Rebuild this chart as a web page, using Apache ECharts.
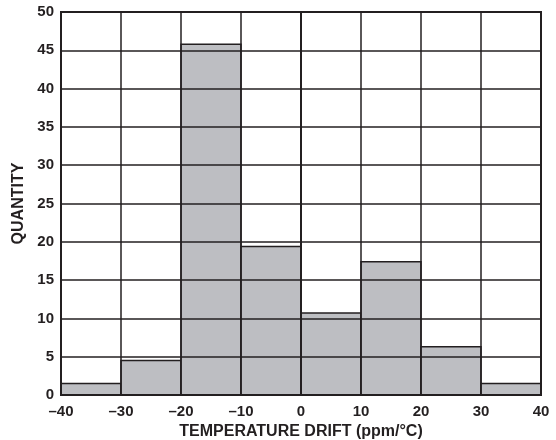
<!DOCTYPE html>
<html>
<head>
<meta charset="utf-8">
<script src="https://cdn.jsdelivr.net/npm/echarts@6/dist/echarts.min.js"></script>
<style>html,body{margin:0;padding:0;background:#fff}#c{width:556px;height:440px}</style>
</head>
<body>
<div id="c"></div>
<script>
const binStarts = [-40, -30, -20, -10, 0, 10, 20, 30];
const binWidth = 10;
const quantities = [1.5, 4.5, 45.8, 19.4, 10.7, 17.4, 6.3, 1.5];
const xTicks = [-40, -30, -20, -10, 0, 10, 20, 30, 40];
const yTicks = [0, 5, 10, 15, 20, 25, 30, 35, 40, 45, 50];

const data = binStarts.map((s, i) => [s, s + binWidth, quantities[i]]);
const font = 'Liberation Sans, Arial, sans-serif';
const ink = '#231f20';

const chart = echarts.init(document.getElementById('c'));
chart.setOption({
  animation: false,
  grid: { left: 61, right: 15, top: 12, bottom: 45, show: false, containLabel: false, outerBoundsMode: 'none' },
  xAxis: {
    type: 'value', min: xTicks[0], max: xTicks[xTicks.length - 1], interval: 10, z: 5,
    name: 'TEMPERATURE DRIFT (ppm/°C)', nameLocation: 'middle', nameGap: 29,
    nameTextStyle: { fontFamily: font, fontWeight: 'bold', fontSize: 16, color: ink },
    axisLine: { show: true, lineStyle: { color: ink, width: 2 } },
    axisTick: { show: false },
    axisLabel: { fontFamily: font, fontWeight: 'bold', fontSize: 15, color: ink, margin: 9,
      formatter: v => String(v).replace('-', '\u2013') },
    splitLine: { show: true, lineStyle: { color: ink, width: 1.5 } }
  },
  yAxis: {
    type: 'value', min: yTicks[0], max: yTicks[yTicks.length - 1], interval: 5, z: 5,
    name: 'QUANTITY', nameLocation: 'middle', nameGap: 29, nameRotate: 90,
    nameTextStyle: { fontFamily: font, fontWeight: 'bold', fontSize: 16, color: ink },
    axisLine: { show: true, lineStyle: { color: ink, width: 2 } },
    axisTick: { show: false },
    axisLabel: { fontFamily: font, fontWeight: 'bold', fontSize: 15, color: ink, margin: 7,
      padding: [5, 0, 0, 0] },
    splitLine: { show: true, lineStyle: { color: ink, width: 1.5 } }
  },
  series: [{
    type: 'custom', z: 2,
    renderItem: function (params, api) {
      const p0 = api.coord([api.value(0), 0]);
      const p1 = api.coord([api.value(1), api.value(2)]);
      return {
        type: 'rect',
        shape: { x: p0[0], y: p1[1], width: p1[0] - p0[0], height: p0[1] - p1[1] },
        style: { fill: '#bdbec2', stroke: ink, lineWidth: 1.5 }
      };
    },
    encode: { x: [0, 1], y: 2 },
    data: data
  }]
});
const tl = chart.convertToPixel({ gridIndex: 0 }, [xTicks[0], yTicks[yTicks.length - 1]]);
const br = chart.convertToPixel({ gridIndex: 0 }, [xTicks[xTicks.length - 1], yTicks[0]]);
chart.setOption({ graphic: [{ type: 'rect', z: 10, silent: true,
  shape: { x: tl[0], y: tl[1], width: br[0] - tl[0], height: br[1] - tl[1] },
  style: { fill: 'none', stroke: ink, lineWidth: 2 } }] });
</script>
</body>
</html>
